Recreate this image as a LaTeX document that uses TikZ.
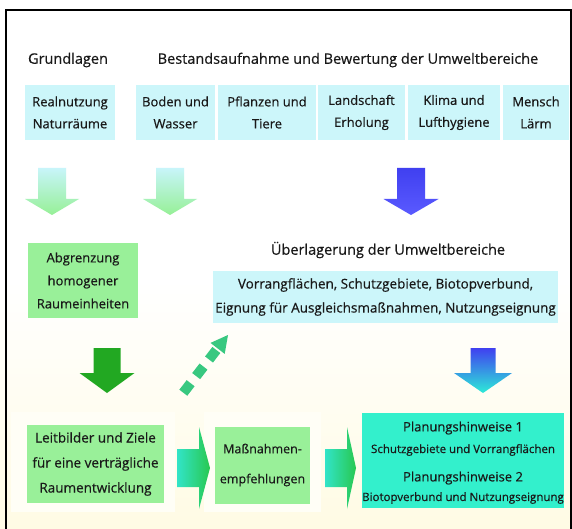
\documentclass[tikz,border=0pt]{standalone}
\usepackage{fontspec}
\setmainfont{Open Sans}[FakeBold=0.5]
\definecolor{cyanbox}{RGB}{204,246,250}
\definecolor{greenbox}{RGB}{153,240,153}
\definecolor{turq}{RGB}{51,240,204}
\definecolor{txt}{RGB}{25,25,25}
\definecolor{bgyel}{RGB}{255,251,228}
\definecolor{arrlight}{RGB}{200,245,250}
\definecolor{arrgreen}{RGB}{150,240,150}
\definecolor{arrblue}{RGB}{64,64,240}
\definecolor{arrblue2}{RGB}{90,90,255}
\definecolor{darkgreen}{RGB}{34,168,34}
\definecolor{mint}{RGB}{56,200,128}
\definecolor{hturq}{RGB}{50,228,200}
\definecolor{hgreen}{RGB}{40,200,80}
\definecolor{cyanend}{RGB}{45,235,215}
\definecolor{halocol}{RGB}{255,254,246}
\newcommand\BlockDown[7]{%
  \shade[#7] (#1-#5,#2) -- (#1+#5,#2) -- (#1+#5,#3) -- (#1+#6,#3) -- (#1,#4) -- (#1-#6,#3) -- (#1-#5,#3) -- cycle;}
\newcommand\BlockRight[7]{%
  \shade[#7] (#2,#1-#5) -- (#3,#1-#5) -- (#3,#1-#6) -- (#4,#1) -- (#3,#1+#6) -- (#3,#1+#5) -- (#2,#1+#5) -- cycle;}
\begin{document}
\begin{tikzpicture}[x=1pt,y=-1pt,
  every node/.style={text=txt, inner sep=0pt, align=center},
  hdr/.style={font=\fontsize{14.5}{17}\selectfont},
  cbox/.style={fill=cyanbox, minimum height=55pt, font=\fontsize{13}{22}\selectfont},
  gbox/.style={fill=greenbox},
  tbox/.style={fill=turq},
  halo/.style={fill=halocol}]
\useasboundingbox (0,0) rectangle (572,529);
\fill[white] (0,0) rectangle (572,529);
\shade[top color=white, bottom color=bgyel] (0,280) rectangle (572,529);
\draw[line width=2pt] (6,540) -- (6,10) -- (571,10) -- (571,540);

% headers
\node[hdr] (grund) at (68,60) {Grundlagen};
\node[hdr] (best) at (348,60) {Bestandsaufnahme und Bewertung der Umweltbereiche};

% top row boxes
\node[cbox, minimum width=90pt] (real) at (70,112.5) {Realnutzung\\Naturräume};
\node[cbox, minimum width=79pt] (boden) at (175.5,112.5) {Boden und\\Wasser};
\node[cbox, minimum width=98pt] (pfl) at (267,112.5) {Pflanzen und\\Tiere};
\node[cbox, minimum width=87pt] (land) at (361.5,112.5) {Landschaft\\Erholung};
\node[cbox, minimum width=92pt] (klima) at (454,112.5) {Klima und\\Lufthygiene};
\node[cbox, minimum width=66pt] (mensch) at (536,112.5) {Mensch\\Lärm};

% first row arrows
\BlockDown{52}{168}{199}{215}{14}{27}{top color=arrlight,bottom color=arrgreen}
\BlockDown{170}{168}{199}{215}{14}{27}{top color=arrlight,bottom color=arrgreen}
\BlockDown{411}{168}{199}{215}{14}{27.5}{top color=arrblue,bottom color=arrblue2}

% middle
\node[hdr] (ueber) at (388,250) {Überlagerung der Umweltbereiche};
\node[fill=cyanbox, minimum width=345pt, minimum height=52pt, font=\fontsize{13.5}{24}\selectfont] (vorr) at (385.5,297) {Vorrangflächen, Schutzgebiete, Biotopverbund,\\Eignung für Ausgleichsmaßnahmen, Nutzungseignung};
\node[gbox, minimum width=110pt, minimum height=75pt, font=\fontsize{13}{23}\selectfont] (abgr) at (83,280.5) {Abgrenzung\\homogener\\Raumeinheiten};

\BlockDown{107}{348}{373}{393}{13.5}{27.5}{top color=darkgreen,bottom color=darkgreen}
\BlockDown{483}{348}{373}{393}{12.5}{29}{top color=arrblue,bottom color=cyanend}

% dotted arrow
\coordinate (dS) at (183.3,392.7);
\coordinate (dE) at (217.6,348.4);
\coordinate (dT) at (228,335);
\coordinate (dL) at (224.7,353.9);
\coordinate (dR) at (210.5,342.9);
\draw[mint, line width=10pt, dash pattern=on 12pt off 9pt] (dS) -- (dE);
\fill[mint] (dT) -- (dL) -- (dR) -- cycle;

% bottom row
\fill[halo] (11,412) rectangle (175,512);
\fill[halo] (204,412) rectangle (321,512);
\node[gbox, minimum width=137pt, minimum height=78pt, font=\fontsize{13.5}{25}\selectfont] (leit) at (95.5,464) {Leitbilder und Ziele\\für eine verträgliche\\Raumentwicklung};
\node[gbox, minimum width=95pt, minimum height=77pt, font=\fontsize{12.5}{30}\selectfont] (mass) at (262.5,465) {Maßnahmen-\\empfehlungen};
\node[tbox, minimum width=202pt, minimum height=95pt] (plan) at (463,460.5) {};
\node[font=\fontsize{13}{15}\selectfont] (p1) at (463,428) {Planungshinweise 1};
\node[font=\fontsize{11.5}{13}\selectfont] (p1s) at (463,450) {Schutzgebiete und Vorrangflächen};
\node[font=\fontsize{13}{15}\selectfont] (p2) at (463,478) {Planungshinweise 2};
\node[font=\fontsize{11.5}{13}\selectfont] (p2s) at (463,498) {Biotopverbund und Nutzungseignung};

\BlockRight{468}{177}{199}{210}{19}{41}{left color=hturq,right color=hgreen}
\BlockRight{468}{325}{347}{356}{19}{41}{left color=hturq,right color=hgreen}
\end{tikzpicture}
\end{document}
